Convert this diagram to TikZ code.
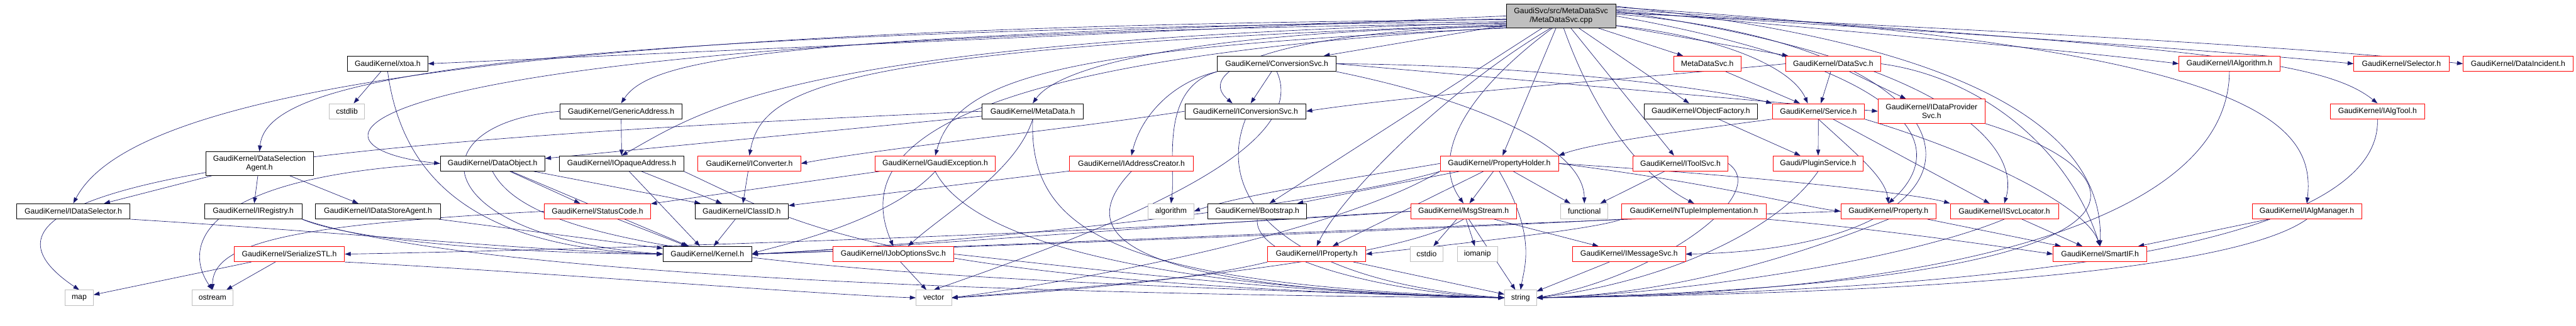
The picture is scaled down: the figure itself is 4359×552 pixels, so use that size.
\documentclass[tikz,border=0pt]{standalone}
\usepackage{fontspec}
\setmainfont{Liberation Sans}
\usetikzlibrary{arrows.meta}
\definecolor{edgeblue}{HTML}{191970}
\definecolor{boxgrey}{HTML}{BFBFBF}
\pgfdeclarelayer{bg}
\pgfsetlayers{bg,main}
\begin{document}
\begin{tikzpicture}[x=1pt,y=-1pt,
 box/.style={rectangle, inner sep=0pt, minimum height=26pt, font=\fontsize{13}{15}\selectfont, align=center, line width=0.8pt, fill=white},
 blk/.style={box, draw=black},
 redb/.style={box, draw=red},
 gry/.style={box, draw=boxgrey},
 e/.style={draw=edgeblue, line width=0.7pt, -{Triangle[length=10pt,width=7pt]}},
]
\useasboundingbox (0,0) rectangle (4359,552);

% row 0
\node[box, draw=black, fill=boxgrey, minimum width=185pt, minimum height=40pt] (T) at (2641.5,27) {GaudiSvc/src/MetaDataSvc\\/MetaDataSvc.cpp};
% row 1
\node[blk, minimum width=136pt] (xtoa) at (656,108) {GaudiKernel/xtoa.h};
\node[blk, minimum width=201pt] (convsvc) at (2160.5,108) {GaudiKernel/ConversionSvc.h};
\node[redb, minimum width=114pt] (mdsvc) at (2889,108) {MetaDataSvc.h};
\node[redb, minimum width=160pt] (datasvc) at (3102,108) {GaudiKernel/DataSvc.h};
\node[redb, minimum width=171pt] (ialgo) at (3772.5,108) {GaudiKernel/IAlgorithm.h};
\node[redb, minimum width=161pt] (selector) at (4063.5,108) {GaudiKernel/Selector.h};
\node[redb, minimum width=186pt] (dataincident) at (4261,108) {GaudiKernel/DataIncident.h};
% row 2
\node[gry, minimum width=60pt] (cstdlib) at (587,188.5) {cstdlib};
\node[blk, minimum width=206pt] (genaddr) at (1051,188.5) {GaudiKernel/GenericAddress.h};
\node[blk, minimum width=171pt] (metadata) at (1747.5,188.5) {GaudiKernel/MetaData.h};
\node[blk, minimum width=205pt] (iconvsvc) at (2107.5,188.5) {GaudiKernel/IConversionSvc.h};
\node[blk, minimum width=192pt] (objfac) at (2878,188.5) {GaudiKernel/ObjectFactory.h};
\node[redb, minimum width=156pt] (service) at (3077,188.5) {GaudiKernel/Service.h};
\node[redb, minimum width=181pt, minimum height=41pt] (idps) at (3268.5,188.5) {GaudiKernel/IDataProvider\\Svc.h};
\node[redb, minimum width=160pt] (ialgtool) at (4023,188.5) {GaudiKernel/IAlgTool.h};
% row 3
\node[blk, minimum width=182pt, minimum height=40pt] (dsa) at (439,277) {GaudiKernel/DataSelection\\Agent.h};
\node[blk, minimum width=177pt] (dobj) at (833.5,277) {GaudiKernel/DataObject.h};
\node[blk, minimum width=210pt] (iopaque) at (1052,277) {GaudiKernel/IOpaqueAddress.h};
\node[redb, minimum width=174pt] (iconv) at (1268,277) {GaudiKernel/IConverter.h};
\node[redb, minimum width=203pt] (gexc) at (1582.5,277) {GaudiKernel/GaudiException.h};
\node[redb, minimum width=209pt] (iaddr) at (1914.5,277) {GaudiKernel/IAddressCreator.h};
\node[redb, minimum width=200pt] (pholder) at (2537,277) {GaudiKernel/PropertyHolder.h};
\node[redb, minimum width=161pt] (itoolsvc) at (2843.5,277) {GaudiKernel/IToolSvc.h};
\node[redb, minimum width=153pt] (plugin) at (3076.5,277) {Gaudi/PluginService.h};
% row 4
\node[blk, minimum width=192pt] (idsel) at (124,358) {GaudiKernel/IDataSelector.h};
\node[blk, minimum width=165pt] (ireg) at (428.5,358) {GaudiKernel/IRegistry.h};
\node[blk, minimum width=211pt] (idsa) at (639.5,358) {GaudiKernel/IDataStoreAgent.h};
\node[redb, minimum width=180pt] (status) at (1011,358) {GaudiKernel/StatusCode.h};
\node[blk, minimum width=158pt] (classid) at (1255,358) {GaudiKernel/ClassID.h};
\node[gry, minimum width=77pt] (algorithm) at (1981.5,358) {algorithm};
\node[blk, minimum width=167pt] (bootstrap) at (2127.5,358) {GaudiKernel/Bootstrap.h};
\node[redb, minimum width=179pt] (msgstream) at (2476.5,358) {GaudiKernel/MsgStream.h};
\node[gry, minimum width=80pt] (functional) at (2681,358) {functional};
\node[redb, minimum width=245pt] (ntuple) at (2866.5,358) {GaudiKernel/NTupleImplementation.h};
\node[redb, minimum width=161pt] (property) at (3195.5,358) {GaudiKernel/Property.h};
\node[redb, minimum width=183pt] (isvcloc) at (3391.5,358) {GaudiKernel/ISvcLocator.h};
\node[redb, minimum width=185pt] (ialgmgr) at (3903.5,358) {GaudiKernel/IAlgManager.h};
% row 5
\node[redb, minimum width=187pt] (sstl) at (489.5,430.5) {GaudiKernel/SerializeSTL.h};
\node[blk, minimum width=150pt] (kernel) at (1197,430.5) {GaudiKernel/Kernel.h};
\node[redb, minimum width=205pt] (ijob) at (1511.5,430.5) {GaudiKernel/IJobOptionsSvc.h};
\node[redb, minimum width=166pt] (iprop) at (2228,430.5) {GaudiKernel/IProperty.h};
\node[gry, minimum width=56pt] (cstdio) at (2414,430.5) {cstdio};
\node[gry, minimum width=68pt] (iomanip) at (2500,430.5) {iomanip};
\node[redb, minimum width=191pt] (imsg) at (2756.5,430.5) {GaudiKernel/IMessageSvc.h};
\node[redb, minimum width=159pt] (smartif) at (3553.5,430.5) {GaudiKernel/SmartIF.h};
% row 6
\node[gry, minimum width=48pt] (map) at (134,504.5) {map};
\node[gry, minimum width=69pt] (ostream) at (359.5,504.5) {ostream};
\node[gry, minimum width=60pt] (vector) at (1580,504.5) {vector};
\node[gry, minimum width=54pt] (string) at (2573,504.5) {string};

\begin{pgfonlayer}{bg}
\fill[white] (0,0) rectangle (4359,552);
% top node, leftwards
\draw[e] (T.west) -- (xtoa.east);
\draw[e] (T.186) .. controls (700,55) and (450,150) .. (dsa.north);
\draw[e] (T.184) .. controls (600,45) and (200,200) .. (idsel.north);
\draw[e] (T.188) .. controls (500,60) and (480,250) .. (dobj.west);
\draw[e] (T.183) .. controls (1300,60) and (1100,100) .. (genaddr.north);
\draw[e] (T.187) .. controls (1350,70) and (1200,180) .. (iopaque.north);
\draw[e] (T.189) .. controls (1400,80) and (1290,150) .. (iconv.north);
\draw[e] (T.191) .. controls (2100,50) and (1800,100) .. (metadata.north);
\draw[e] (T.193) .. controls (1800,80) and (1620,130) .. (gexc.north);
\draw[e] (T.192) .. controls (1600,100) and (1440,250) .. (ijob.north);
\draw[e] (T) -- (convsvc);
\draw[e] (T.190) .. controls (2150,55) and (2020,120) .. ([xshift=-22pt]iconvsvc.north);
% top node, downwards
\draw[e] (T) -- (pholder);
\draw[e] (T.235) .. controls (2450,180) and (2430,280) .. (msgstream.north);
\draw[e] (T.230) .. controls (2450,150) and (2270,330) .. (iprop.north);
\draw[e] (T) -- (bootstrap);
\draw[e] (T) -- (itoolsvc);
\draw[e] (T.282) .. controls (2700,200) and (2780,300) .. (ntuple.north);
\draw[e] (T) -- (objfac);
\draw[e] (T) -- (mdsvc);
% top node, rightwards
\draw[e] (T) -- (datasvc);
\draw[e] (T.-10) .. controls (2900,60) and (3030,110) .. ([xshift=-18pt]service.north);
\draw[e] (T.5) .. controls (3300,100) and (3420,250) .. (isvcloc.north);
\draw[e] (T.10) .. controls (3400,80) and (3560,250) .. (smartif.north);
\draw[e] (T.0) .. controls (3250,120) and (3300,250) .. (property.north);
\draw[e] (T.2) .. controls (3400,80) and (3420,420) .. (imsg.east);
\draw[e] (T.6) .. controls (3200,60) and (3500,85) .. (ialgo.west);
\draw[e] (T.4) .. controls (3400,60) and (3800,90) .. (selector.west);
\draw[e] (T.3) .. controls (3600,60) and (4000,90) .. (dataincident.west);
\draw[e] (T.7) .. controls (3700,80) and (3930,100) .. (ialgtool.north);
\draw[e] (T.9) .. controls (3800,80) and (3920,200) .. (ialgmgr.north);
% left part
\draw[e] (xtoa) -- (cstdlib);
\draw[e] (xtoa.south) .. controls (680,300) and (800,420) .. (kernel.west);
\draw[e] (dsa) -- (idsel);
\draw[e] (dsa) -- (ireg);
\draw[e] (dsa) -- (idsa);
\draw[e] (idsel.south east) .. controls (600,395) and (900,425) .. (kernel.west);
\draw[e] (ireg.south east) .. controls (600,410) and (900,430) .. (kernel.west);
\draw[e] (idsa) -- (kernel);
\draw[e] (ireg.south east) .. controls (800,470) and (1800,500) .. (string.west);
\draw[e] (sstl) -- (map);
\draw[e] (sstl) -- (ostream);
\draw[e] (sstl.south east) .. controls (900,460) and (1400,500) .. (vector.west);
\draw[e] (metadata.west) .. controls (600,235) and (-150,300) .. (map.north);
\draw[e] (metadata) -- (dobj);
\draw[e] (metadata.south) .. controls (1720,290) and (1600,360) .. ([xshift=25pt]ijob.north);
\draw[e] (metadata.south) .. controls (1740,400) and (1900,480) .. (string.west);
\draw[e] (genaddr) -- (iopaque);
\draw[e] (genaddr.west) .. controls (700,210) and (720,400) .. (kernel.west);
\draw[e] (dobj) -- (status);
\draw[e] (dobj) -- (classid);
\draw[e] (dobj) -- (kernel);
\draw[e] (dobj.south) .. controls (900,420) and (1300,470) .. (string.west);
\draw[e] (dobj.west) .. controls (330,300) and (310,420) .. (ostream.north);
\draw[e] (iopaque) -- (kernel);
\draw[e] (iopaque) -- (classid);
\draw[e] (iopaque.south east) .. controls (1350,380) and (1500,480) .. (string.west);
\draw[e] (iconv) -- (classid);
\draw[e] (status) -- (kernel);
\draw[e] (status.west) .. controls (500,380) and (360,410) .. (ostream.north);
\draw[e] (classid) -- (kernel);
\draw[e] (gexc) -- (status);
\draw[e] (gexc.south) .. controls (1500,380) and (1300,420) .. (kernel.east);
\draw[e] (gexc.south) .. controls (1650,420) and (2000,490) .. (string.west);
\draw[e] (iaddr) -- (classid);
\draw[e] (iaddr.south) .. controls (1810,400) and (1900,490) .. (string.west);
\draw[e] (ijob) -- (vector);
\draw[e] (ijob.east) .. controls (1800,450) and (2200,500) .. (string.west);
% middle part
\draw[e] (convsvc) -- (iconvsvc);
\draw[e] (convsvc.south west) .. controls (1980,140) and (1930,200) .. (iaddr.north);
\draw[e] (convsvc.east) .. controls (2600,110) and (2900,150) .. (service.north west);
\draw[e] (convsvc.east) -- (idps.west);
\draw[e] (convsvc.south east) .. controls (2500,170) and (2680,250) .. (functional.north);
\draw[e] (convsvc.south) .. controls (2220,250) and (1900,380) .. (vector.north);
\draw[e] (convsvc.south west) .. controls (1960,150) and (1990,280) .. (algorithm.north);
\draw[e] (iconvsvc.west) .. controls (1800,220) and (1500,250) .. (iconv.east);
\draw[e] (iconvsvc.south) .. controls (2050,350) and (2200,480) .. (string.west);
\draw[e] (bootstrap.south) .. controls (2120,450) and (2400,500) .. (string.west);
\draw[e] (iprop) -- (string);
\draw[e] (iprop.south west) .. controls (2000,480) and (1700,500) .. (vector.east);
\draw[e] (pholder) -- (msgstream);
\draw[e] (pholder) -- (functional);
\draw[e] (pholder) -- (iprop);
\draw[e] (pholder.south) .. controls (2600,400) and (2580,450) .. (string.north);
\draw[e] (pholder) -- (bootstrap);
\draw[e] (pholder.west) .. controls (2300,300) and (2100,330) .. (algorithm.east);
\draw[e] (pholder.east) .. controls (3000,300) and (3250,330) .. (isvcloc.north west);
\draw[e] (pholder.east) .. controls (2900,310) and (3050,350) .. (property.west);
\draw[e] (pholder.south west) .. controls (2200,360) and (1500,420) .. (kernel.east);
\draw[e] (pholder.south west) .. controls (2250,400) and (1800,480) .. (vector.east);
\draw[e] (msgstream) -- (cstdio);
\draw[e] (msgstream) -- (iomanip);
\draw[e] (msgstream) -- (string);
\draw[e] (msgstream) -- (imsg);
\draw[e] (msgstream.west) .. controls (2000,380) and (1500,420) .. (kernel.east);
\draw[e] (msgstream.west) .. controls (1800,400) and (900,425) .. (sstl.east);
\draw[e] (msgstream.south) .. controls (2350,450) and (1800,490) .. (vector.east);
\draw[e] (itoolsvc) -- (functional);
\draw[e] (itoolsvc.east) .. controls (3000,330) and (2800,470) .. (string.east);
\draw[e] (ntuple.south east) .. controls (3200,390) and (3400,420) .. (smartif.west);
\draw[e] (ntuple.south west) .. controls (2400,390) and (1600,420) .. (kernel.east);
\draw[e] (ntuple.south west) .. controls (2700,390) and (2400,420) .. (iprop.east);
\draw[e] (imsg) -- (string);
% right part
\draw[e] (mdsvc) -- (service);
\draw[e] (datasvc) -- (service);
\draw[e] (datasvc) -- (idps);
\draw[e] (datasvc.east) .. controls (3350,130) and (3500,250) .. (smartif.north);
\draw[e] (datasvc.west) .. controls (2800,130) and (2400,160) .. (iconvsvc.east);
\draw[e] (service) -- (plugin);
\draw[e] (service.south) .. controls (3140,260) and (3190,300) .. (property.north);
\draw[e] (service) -- (isvcloc);
\draw[e] (service.south east) .. controls (3350,260) and (3530,350) .. (smartif.north);
\draw[e] (service.south west) .. controls (2900,215) and (2700,240) .. (pholder.north east);
\draw[e] (objfac) -- (plugin);
\draw[e] (plugin.south) .. controls (3000,400) and (2800,480) .. (string.east);
\draw[e] (idps.south east) .. controls (3650,300) and (3700,480) .. (string.east);
\draw[e] (property) -- (smartif);
\draw[e] (property.south) .. controls (3000,450) and (2800,500) .. (string.east);
\draw[e] (property.west) .. controls (2500,380) and (1600,420) .. (kernel.east);
\draw[e] (isvcloc) -- (smartif);
\draw[e] (isvcloc.south) .. controls (3200,450) and (2800,500) .. (string.east);
\draw[e] (ialgo.south) .. controls (3770,400) and (3200,500) .. (string.east);
\draw[e] (ialgmgr) -- (smartif);
\draw[e] (ialgmgr.south) .. controls (3750,480) and (3000,500) .. (string.east);
\draw[e] (ialgtool.south) .. controls (4030,400) and (3500,490) .. (string.east);
\end{pgfonlayer}
\end{tikzpicture}
\end{document}
